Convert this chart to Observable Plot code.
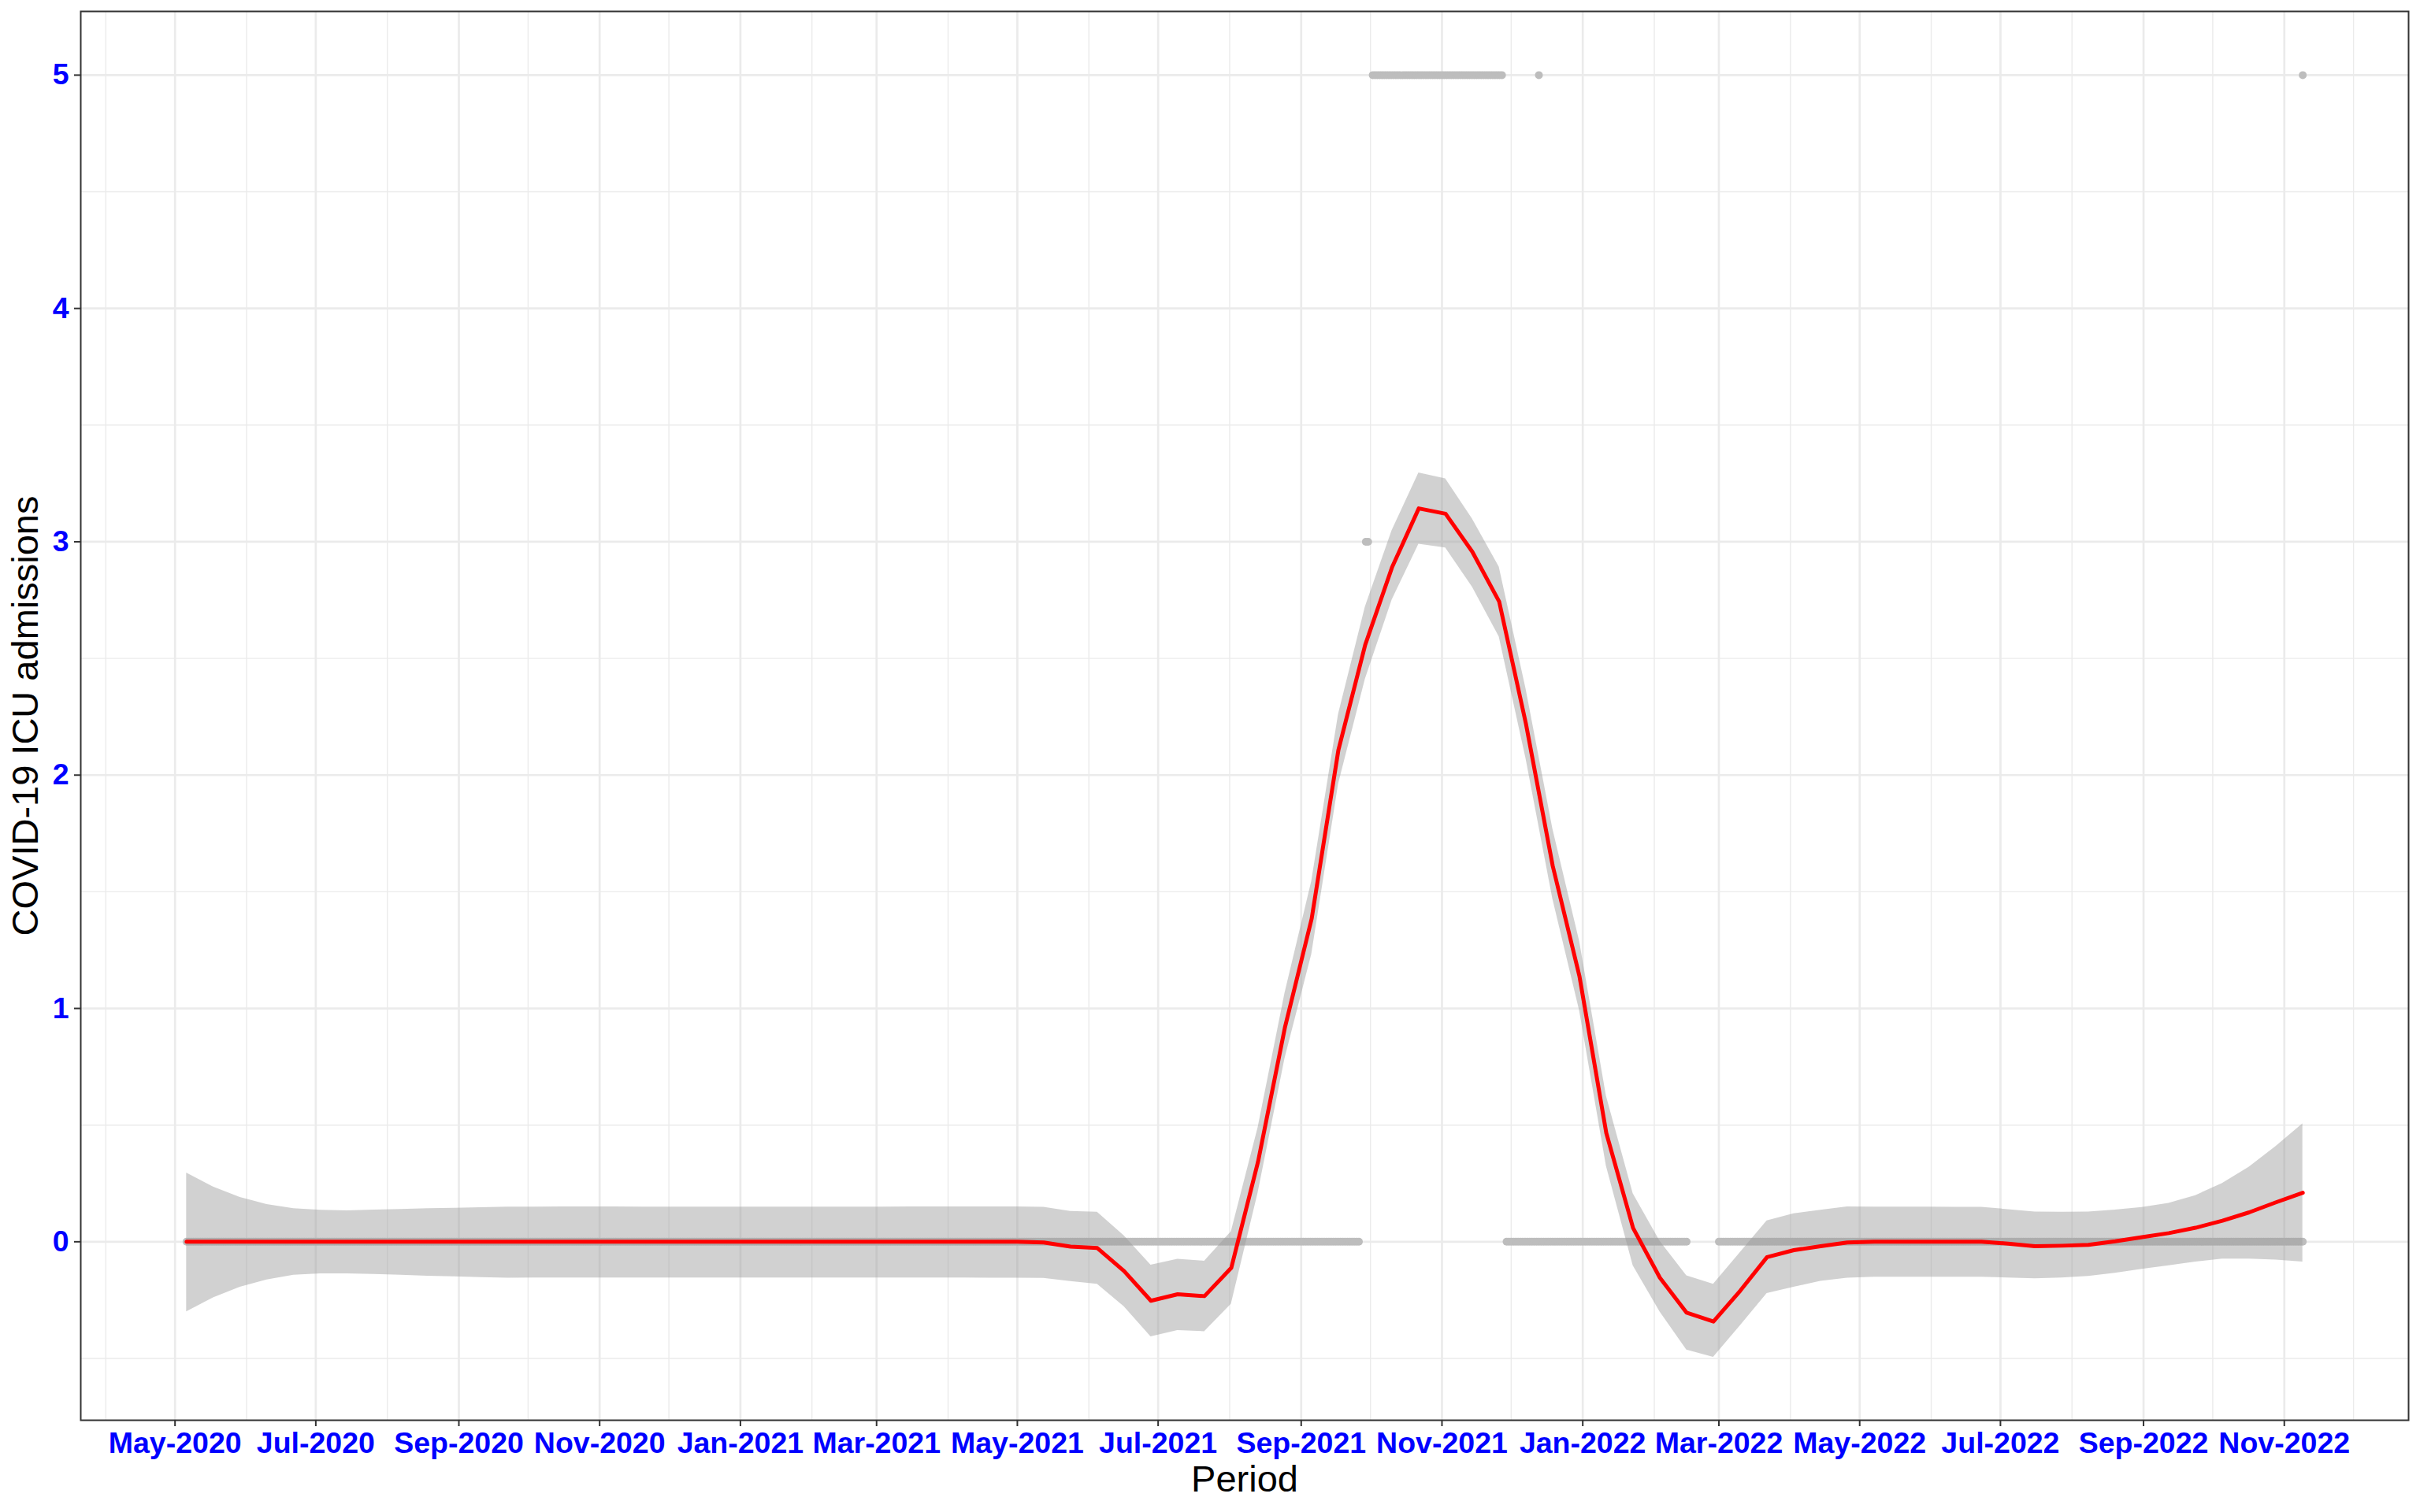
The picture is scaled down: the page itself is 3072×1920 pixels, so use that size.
<!DOCTYPE html>
<html>
<head>
<meta charset="utf-8">
<script src="https://cdn.jsdelivr.net/npm/d3@7"></script>
<script src="https://cdn.jsdelivr.net/npm/@observablehq/plot@0.6"></script>
<style>
  html, body { margin: 0; padding: 0; background: #ffffff; overflow: hidden; }
  #chart svg { display: block; }
</style>
</head>
<body>
<div id="chart"></div>
<script>
// ---------------- data ----------------
// Observed daily ICU admissions, grouped in runs of identical value (start, end, value)
const obsStart = ["2020-05-06", "2021-09-29", "2021-10-02", "2021-11-29", "2021-12-13", "2022-03-01", "2022-11-09"];
const obsEnd   = ["2021-09-26", "2021-09-30", "2021-11-27", "2022-02-15", "2021-12-13", "2022-11-09", "2022-11-09"];
const obsValue = [0, 3, 5, 0, 5, 0, 5];

// Loess smooth (80 evaluation points from first to last observation)
const smoothFirst = "2020-05-06";
const smoothLast = "2022-11-09";
const smoothFit = [
  0, 0, 0, 0, 0, 0, 0, 0, 0, 0,
  0, 0, 0, 0, 0, 0, 0, 0, 0, 0,
  0, 0, 0, 0, 0, 0, 0, 0, 0, 0,
  0, 0, -0.003, -0.021, -0.027, -0.126, -0.253, -0.225, -0.233, -0.112,
  0.343, 0.917, 1.384, 2.108, 2.558, 2.89, 3.143, 3.12, 2.957, 2.744,
  2.22, 1.611, 1.137, 0.466, 0.059, -0.154, -0.304, -0.342, -0.21, -0.066,
  -0.036, -0.019, -0.003, 0, 0, 0, 0, 0, -0.008, -0.019,
  -0.017, -0.013, 0.002, 0.02, 0.037, 0.06, 0.09, 0.126, 0.169, 0.21
];
const smoothHi = [
  0.295, 0.235, 0.19, 0.16, 0.142, 0.135, 0.133, 0.136, 0.139, 0.142,
  0.144, 0.146, 0.149, 0.149, 0.15, 0.15, 0.15, 0.149, 0.149, 0.149,
  0.149, 0.149, 0.149, 0.149, 0.149, 0.149, 0.149, 0.15, 0.15, 0.15,
  0.15, 0.15, 0.148, 0.13, 0.127, 0.026, -0.1, -0.075, -0.083, 0.043,
  0.49, 1.064, 1.544, 2.26, 2.72, 3.048, 3.295, 3.27, 3.098, 2.892,
  2.37, 1.77, 1.288, 0.625, 0.206, 0.003, -0.146, -0.182, -0.046, 0.09,
  0.12, 0.135, 0.15, 0.149, 0.149, 0.149, 0.148, 0.148, 0.138, 0.128,
  0.127, 0.128, 0.136, 0.147, 0.165, 0.198, 0.25, 0.32, 0.409, 0.506
];
const smoothLo = [
  -0.3, -0.24, -0.195, -0.163, -0.143, -0.137, -0.137, -0.14, -0.143, -0.147,
  -0.15, -0.153, -0.156, -0.155, -0.155, -0.155, -0.155, -0.155, -0.155, -0.155,
  -0.155, -0.155, -0.155, -0.155, -0.155, -0.155, -0.155, -0.155, -0.155, -0.155,
  -0.156, -0.156, -0.157, -0.17, -0.182, -0.278, -0.407, -0.38, -0.385, -0.267,
  0.21, 0.784, 1.231, 1.96, 2.41, 2.75, 2.99, 2.974, 2.806, 2.592,
  2.07, 1.469, 0.99, 0.324, -0.103, -0.3, -0.464, -0.495, -0.36, -0.222,
  -0.195, -0.169, -0.156, -0.152, -0.152, -0.152, -0.152, -0.152, -0.155, -0.158,
  -0.155, -0.148, -0.135, -0.118, -0.103, -0.087, -0.074, -0.074, -0.078, -0.087
];

// Axis ticks
const xTickDates = ["2020-05-01", "2020-07-01", "2020-09-01", "2020-11-01", "2021-01-01", "2021-03-01",
  "2021-05-01", "2021-07-01", "2021-09-01", "2021-11-01", "2022-01-01", "2022-03-01",
  "2022-05-01", "2022-07-01", "2022-09-01", "2022-11-01"];
const xMinorDates = ["2020-04-01", "2020-06-01", "2020-08-01", "2020-10-01", "2020-12-01", "2021-02-01",
  "2021-04-01", "2021-06-01", "2021-08-01", "2021-10-01", "2021-12-01", "2022-02-01",
  "2022-04-01", "2022-06-01", "2022-08-01", "2022-10-01", "2022-12-01"];
const yTicks = [0, 1, 2, 3, 4, 5];
const yTickLabels = ["0", "1", "2", "3", "4", "5"];
const yMinor = [-0.5, 0.5, 1.5, 2.5, 3.5, 4.5];

const xTitle = "Period";
const yTitle = "COVID-19 ICU admissions";

// ---------------- build tables ----------------
const points = [];
obsStart.forEach((s, k) => {
  const a = new Date(s), b = d3.utcDay.offset(new Date(obsEnd[k]), 1);
  for (const d of d3.utcDay.range(a, b)) points.push({date: d, value: obsValue[k]});
});

const t0 = new Date(smoothFirst), t1 = new Date(smoothLast);
const n = smoothFit.length;
const smooth = smoothFit.map((v, i) => ({
  date: new Date(+t0 + (t1 - t0) * i / (n - 1)),
  fit: v, hi: smoothHi[i], lo: smoothLo[i]
}));

const span = t1 - t0;
const xDomain = [new Date(+t0 - 0.05 * span), new Date(+t1 + 0.05 * span)];

const fmt = d3.utcFormat("%b-%Y");
const font = "'Liberation Sans', Arial, Helvetica, sans-serif";

const chart = Plot.plot({
  width: 3072,
  height: 1920,
  marginLeft: 102,
  marginRight: 15,
  marginTop: 14,
  marginBottom: 117,
  style: {fontFamily: font, background: "#ffffff", overflow: "visible"},
  x: {type: "utc", domain: xDomain},
  y: {domain: [-0.765, 5.273]},
  marks: [
    Plot.gridY(yMinor, {stroke: "#EBEBEB", strokeOpacity: 1, strokeWidth: 1.4}),
    Plot.gridX(xMinorDates.map(d => new Date(d)), {stroke: "#EBEBEB", strokeOpacity: 1, strokeWidth: 1.4}),
    Plot.gridY(yTicks, {stroke: "#EBEBEB", strokeOpacity: 1, strokeWidth: 2.7}),
    Plot.gridX(xTickDates.map(d => new Date(d)), {stroke: "#EBEBEB", strokeOpacity: 1, strokeWidth: 2.7}),
    Plot.dot(points, {x: "date", y: "value", r: 5, fill: "#BDBDBD", stroke: null}),
    Plot.areaY(smooth, {x: "date", y1: "lo", y2: "hi", fill: "#999999", fillOpacity: 0.45}),
    Plot.lineY(smooth, {x: "date", y: "fit", stroke: "#FF0000", strokeWidth: 5}),
    Plot.frame({stroke: "#333333", strokeWidth: 2}),
    Plot.axisX(xTickDates.map(d => new Date(d)), {
      tickFormat: fmt, tickSize: 8, tickPadding: 7, stroke: "#333333", strokeWidth: 2,
      fill: "#0000FF", fontSize: 37.5, fontWeight: "bold", label: null
    }),
    Plot.axisY(yTicks, {
      tickFormat: (d, i) => yTickLabels[yTicks.indexOf(d)],
      tickSize: 8, tickPadding: 7, stroke: "#333333", strokeWidth: 2,
      fill: "#0000FF", fontSize: 37.5, fontWeight: "bold", label: null
    }),
    Plot.text([xTitle], {frameAnchor: "bottom", dy: 75, text: d => d, fontSize: 47,
      fill: "#000000", textAnchor: "middle", lineAnchor: "middle"}),
    Plot.text([yTitle], {frameAnchor: "left", dx: -70, rotate: -90, text: d => d, fontSize: 47,
      fill: "#000000", textAnchor: "middle", lineAnchor: "middle"})
  ]
});

document.getElementById("chart").appendChild(chart);
</script>
</body>
</html>
